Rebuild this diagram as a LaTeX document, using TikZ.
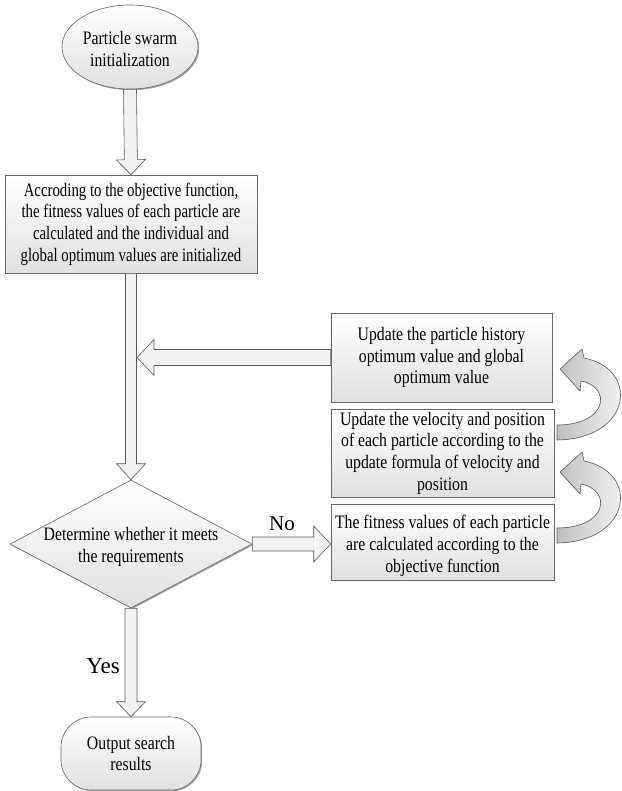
\documentclass[tikz,border=0pt]{standalone}
\usepackage{fontspec}
\setmainfont{Liberation Serif}[FakeStretch=0.83]
\newfontfamily\lblfont{Liberation Serif}
\newfontfamily\narrowfont{Liberation Serif}[FakeStretch=0.78]
\usetikzlibrary{shapes.geometric,shadows,calc}
\newcommand\blockarrow[5]{% #1 tail, #2 tip, #3 half shaft, #4 half head, #5 head length
  \coordinate (bab) at ($(#2)!#5!(#1)$);
  \filldraw[blk] ($(#1)!#3!90:(#2)$) -- ($(bab)!#3!-90:(#1)$) -- ($(bab)!#4!-90:(#1)$) -- (#2)
    -- ($(bab)!#4!90:(#1)$) -- ($(bab)!#3!90:(#1)$) -- ($(#1)!#3!-90:(#2)$) -- cycle;}
\begin{document}
\begin{tikzpicture}[x=1pt,y=-1pt,
  txt/.style={align=center,font=\fontsize{19}{21.7}\selectfont,inner sep=0pt},
  shapesty/.style={draw=black!60,line width=0.6pt,top color=white,bottom color=black!12,
    drop shadow={shadow xshift=1.2pt,shadow yshift=-1.2pt,opacity=0.35,fill=black}},
  blk/.style={draw=black!65,line width=0.6pt,fill=black!5},
  curv/.style={draw=black!65,line width=0.6pt,left color=black!25,right color=white},
  lbl/.style={font=\lblfont\fontsize{21}{24}\selectfont,inner sep=0pt}
]
\useasboundingbox (0,0) rectangle (621,791);
% nodes
\node[ellipse,shapesty,minimum width=136pt,minimum height=84pt,inner sep=0pt] (start) at (130,47) {};
\node[txt] (startT) at (130,49) {Particle swarm\\initialization};
\node[rectangle,shapesty,txt,font=\narrowfont\fontsize{19}{21.7}\selectfont,minimum width=252pt,minimum height=98pt] (init) at (131,224)
  {Accroding to the objective function,\\the fitness values of each particle are\\calculated and the individual and\\global optimum values are initialized};
\node[rectangle,shapesty,txt,minimum width=221pt,minimum height=89pt] (R1) at (441.5,357.5)
  {Update the particle history\\optimum value and global\\optimum value};
\node[rectangle,shapesty,txt,minimum width=223pt,minimum height=88pt] (R2) at (442.5,453)
  {Update the velocity and position\\of each particle according to the\\update formula of velocity and\\position};
\node[rectangle,shapesty,minimum width=223pt,minimum height=76pt] (R3) at (442.5,542) {};
\node[txt] (R3T) at (442.5,546) {The fitness values of each particle\\are calculated according to the\\objective function};
\node[diamond,shapesty,minimum width=242pt,minimum height=128pt,inner sep=0pt] (dia) at (131,544) {};
\node[txt] (diaT) at (131,547) {Determine whether it meets\\the requirements};
\node[rectangle,rounded corners=30pt,shapesty,txt,minimum width=140pt,minimum height=73pt] (out) at (131,753.5)
  {Output search\\results};
% connectors
\coordinate (join) at ($(init.south |- R1.west)+(6pt,0)$);
\coordinate (noend) at (dia.east -| R3.west);
\blockarrow{start.south}{init.north}{6.5pt}{14.5pt}{15pt}
\blockarrow{init.south}{dia.north}{5.5pt}{14.5pt}{16pt}
\blockarrow{R1.west}{join}{8pt}{18pt}{17pt}
\blockarrow{dia.east}{noend}{7pt}{18pt}{17pt}
\blockarrow{dia.south}{out.north}{6pt}{14.5pt}{15pt}
\node[lbl] (no) at (282,524) {No};
\node[lbl,font=\lblfont\fontsize{23}{26}\selectfont] (yes) at (103,666) {Yes};
% curved arrows
\foreach \dy in {0,-103}{
  \begin{scope}[shift={(0,\dy)}]
    \path[curv] (557,543) .. controls (632,542) and (640,472) .. (584,461) -- (582,452) -- (560,472)
      -- (580,494) -- (581,484) .. controls (612,490) and (608,528) .. (557,528) -- cycle;
  \end{scope}
}
\end{tikzpicture}
\end{document}
